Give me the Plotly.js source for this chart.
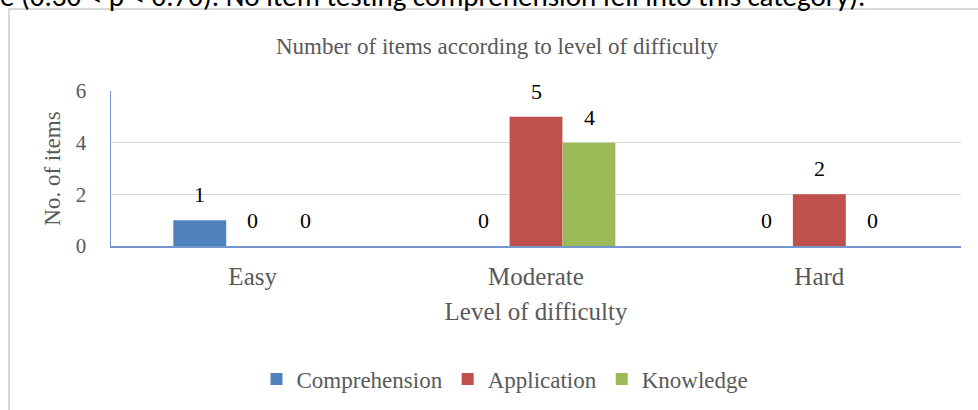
<!DOCTYPE html>
<html>
<head>
<meta charset="utf-8">
<script src="https://cdn.plot.ly/plotly-3.0.1.min.js"></script>
<style>
html,body{margin:0;padding:0;background:#fff;overflow:hidden;}
#frame{position:absolute;left:8px;top:8px;width:2000px;height:2000px;border-left:2px solid #d9d9d9;border-top:2px solid #d9d9d9;}
#chart{position:absolute;left:0;top:0;width:978px;height:410px;}
</style>
</head>
<body>
<div id="frame"></div>
<div id="chart"></div>
<script>
var categories = ["Easy", "Moderate", "Hard"];
var seriesNames = ["Comprehension", "Application", "Knowledge"];
var comprehension = [1, 0, 0];
var application = [0, 5, 2];
var knowledge = [0, 4, 0];
var yTicks = [0, 2, 4, 6];
var colors = ["#4f81bd", "#c0504d", "#9bbb59"];
var allSeries = [comprehension, application, knowledge];

var W = 978, H = 410;
var L = 111, R = 961, T = 91, B = 247;
function px2x(p){ return (p - L) / (R - L); }
function py2y(p){ return (B - p) / (B - T); }

var font = "Liberation Serif, Times New Roman, serif";
var gray = "#595959";

var traces = allSeries.map(function(vals, i){
  return {
    type: "bar", name: seriesNames[i], x: categories, y: vals,
    marker: {color: colors[i]}, hoverinfo: "none"
  };
});

var annotations = [];
var barW = 53;
allSeries.forEach(function(vals, i){
  vals.forEach(function(v, j){
    annotations.push({
      x: categories[j], y: v, xref: "x", yref: "y",
      text: String(v), showarrow: false,
      xshift: (i - 1) * barW, yshift: 11, yanchor: "bottom",
      font: {family: font, size: 22, color: "#000"}
    });
  });
});
annotations.push({
  xref: "paper", yref: "paper", x: px2x(-2), y: py2y(-5),
  xanchor: "left", yanchor: "middle", showarrow: false,
  text: "e (0.30 < p < 0.70). No item testing comprehension fell into this category).",
  font: {family: "Carlito, Calibri, Lato, sans-serif", size: 29, color: "#000"}
});

var layout = {
  width: W, height: H,
  margin: {l: L, r: W - R, t: T, b: H - B, pad: 0},
  paper_bgcolor: "rgba(0,0,0,0)", plot_bgcolor: "rgba(0,0,0,0)",
  barmode: "group", bargap: 0.44, bargroupgap: 0,
  showlegend: true,
  title: {text: "Number of items according to level of difficulty",
          font: {family: font, size: 23, color: gray},
          x: 497 / W, xanchor: "center",
          y: 1 - 46 / H, yanchor: "middle"},
  xaxis: {
    type: "category", showgrid: false, zeroline: false,
    showline: true, linecolor: "#7396cf", linewidth: 1.5,
    ticks: "", ticklabelstandoff: 7,
    tickfont: {family: font, size: 25, color: gray},
    title: {text: "Level of difficulty", standoff: 14,
            font: {family: font, size: 25, color: gray}}
  },
  yaxis: {
    range: [0, 6], tickvals: yTicks, ticktext: yTicks.map(String),
    showgrid: true, gridcolor: "#d9d9d9", gridwidth: 1.5, zeroline: false,
    showline: true, linecolor: "#7396cf", linewidth: 1.5,
    ticks: "", ticklabelstandoff: 19,
    tickfont: {family: font, size: 21, color: gray},
    title: {text: "No. of items", standoff: 8,
            font: {family: font, size: 23, color: gray}}
  },
  legend: {
    orientation: "h", x: px2x(505), xanchor: "center",
    y: py2y(379), yanchor: "middle",
    font: {family: font, size: 23, color: gray},
    itemwidth: 30, bgcolor: "rgba(0,0,0,0)"
  },
  annotations: annotations
};

Plotly.newPlot("chart", traces, layout, {displayModeBar: false, staticPlot: true});
</script>
</body>
</html>
